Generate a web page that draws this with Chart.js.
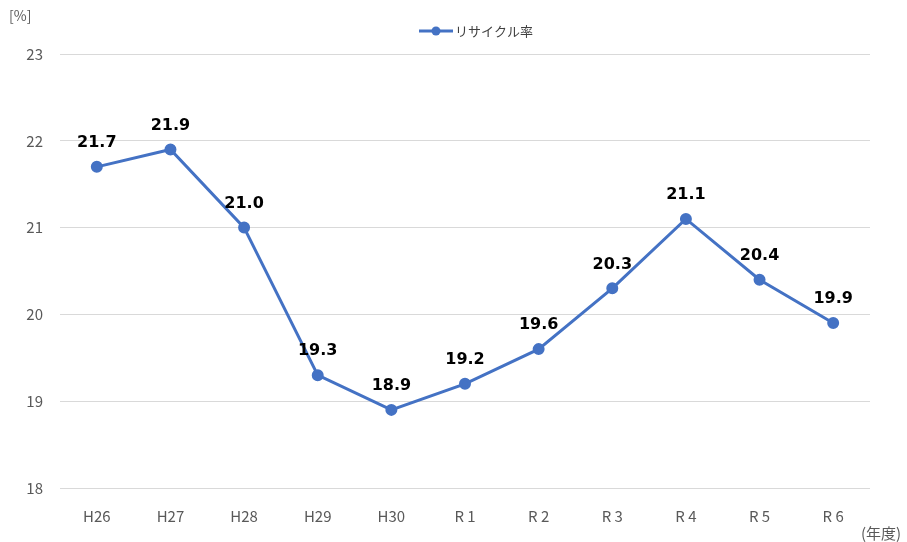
<!DOCTYPE html>
<html>
<head>
<meta charset="utf-8">
<script src="https://cdn.jsdelivr.net/npm/chart.js@4"></script>
<style>
  body { margin: 0; background: #fff; }
  #wrap { width: 907px; height: 542px; position: relative; }
</style>
</head>
<body>
<div id="wrap"><canvas id="grafica"></canvas></div>
<script>
const categorias = ['H26', 'H27', 'H28', 'H29', 'H30', 'R 1', 'R 2', 'R 3', 'R 4', 'R 5', 'R 6'];
const tasaReciclaje = [21.7, 21.9, 21.0, 19.3, 18.9, 19.2, 19.6, 20.3, 21.1, 20.4, 19.9];
const etiquetaSerie = 'リサイクル率';
const ticksY = [18, 19, 20, 21, 22, 23];

const fuente = '"Noto Sans CJK JP", "Noto Sans", sans-serif';
const azul = '#4472C4';

// etiquetas de datos, leyenda y unidades
const extras = {
  id: 'extras',
  afterDatasetsDraw(chart) {
    const ctx = chart.ctx;
    const meta = chart.getDatasetMeta(0);
    ctx.save();
    ctx.fillStyle = '#000';
    ctx.font = 'bold 16px "DejaVu Sans", sans-serif';
    ctx.textAlign = 'center';
    ctx.textBaseline = 'middle';
    meta.data.forEach((p, i) => {
      ctx.fillText(tasaReciclaje[i].toFixed(1), p.x, p.y - 24);
    });

    // leyenda
    ctx.strokeStyle = azul;
    ctx.lineWidth = 3;
    ctx.beginPath();
    ctx.moveTo(419, 31);
    ctx.lineTo(453, 31);
    ctx.stroke();
    ctx.fillStyle = azul;
    ctx.beginPath();
    ctx.arc(436, 31, 4.5, 0, Math.PI * 2);
    ctx.fill();
    ctx.fillStyle = '#404040';
    ctx.font = '13px ' + fuente;
    ctx.textAlign = 'left';
    ctx.fillText(etiquetaSerie, 455, 31);

    ctx.fillStyle = '#595959';
    ctx.font = '14px ' + fuente;
    ctx.fillText('[%]', 9, 16);
    ctx.font = '15px ' + fuente;
    ctx.fillText('(年度)', 861, 533);
    ctx.restore();
  }
};

new Chart(document.getElementById('grafica'), {
  type: 'line',
  data: {
    labels: categorias,
    datasets: [{
      label: etiquetaSerie,
      data: tasaReciclaje,
      borderColor: azul,
      backgroundColor: azul,
      borderWidth: 3,
      pointRadius: 4.5,
      pointHoverRadius: 4.5,
      tension: 0
    }]
  },
  options: {
    responsive: true,
    maintainAspectRatio: false,
    animation: false,
    layout: { padding: { top: 54, right: 37, left: 0, bottom: 0 } },
    plugins: {
      legend: { display: false },
      tooltip: { enabled: false }
    },
    scales: {
      x: {
        offset: true,
        grid: { display: false },
        border: { display: false },
        ticks: { color: '#595959', font: { family: fuente, size: 15 }, padding: 11, maxRotation: 0 },
        afterFit(axis) { axis.height = 54; }
      },
      y: {
        min: 18,
        max: 23,
        afterBuildTicks(axis) { axis.ticks = ticksY.map(v => ({ value: v })); },
        grid: { color: '#d9d9d9', lineWidth: 1, drawTicks: false },
        border: { display: false },
        ticks: { color: '#595959', font: { family: fuente, size: 15 }, padding: 17 },
        afterFit(axis) { axis.width = 60; }
      }
    }
  },
  plugins: [extras]
});
</script>
</body>
</html>
